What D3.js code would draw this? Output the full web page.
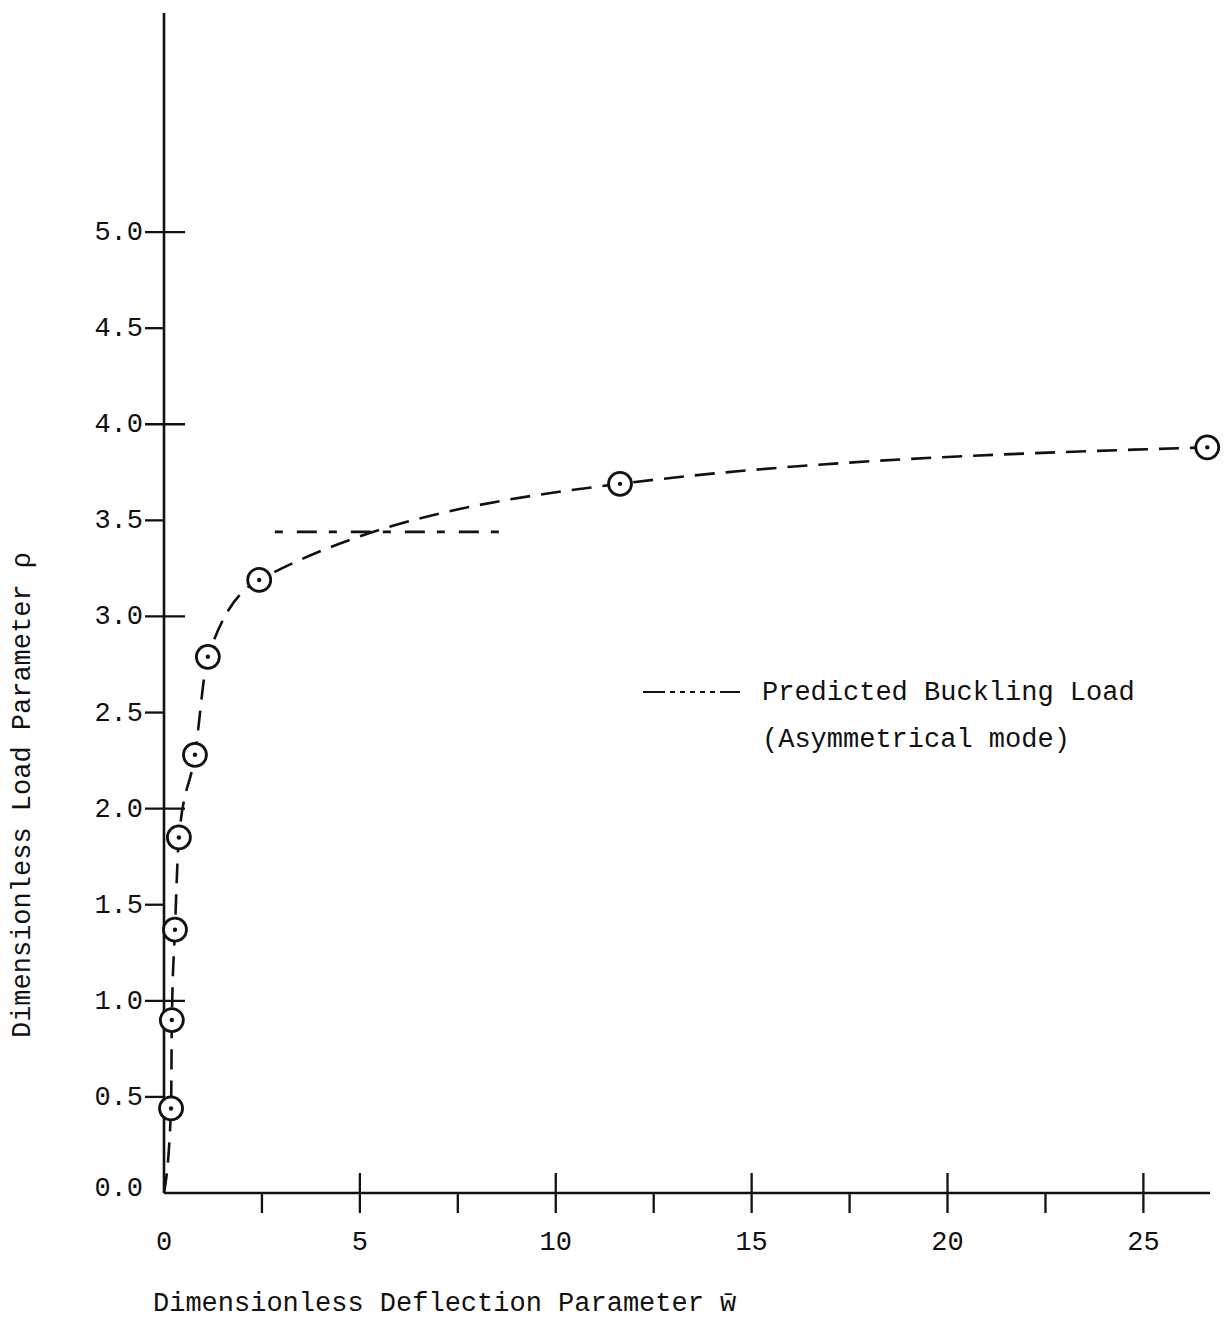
<!DOCTYPE html>
<html><head><meta charset="utf-8">
<script src="https://cdn.jsdelivr.net/npm/d3@7"></script>
<style>
body{margin:0;background:#fff;}
text{font-family:"Liberation Mono","DejaVu Sans Mono",monospace;fill:#111;}
</style></head>
<body>
<svg id="chart" width="1224" height="1326"></svg>
<script>
// Data
const deflection = [0, 0.18, 0.2, 0.28, 0.38, 0.79, 1.12, 2.43, 11.64, 26.63];
const load       = [0, 0.44, 0.90, 1.37, 1.85, 2.28, 2.79, 3.19, 3.69, 3.88];
const measured   = [false, true, true, true, true, true, true, true, true, true];
const bucklingLoad = 3.44;
const bucklingRange = [2.83, 8.84];
const xTicksMajor = [0, 5, 10, 15, 20, 25];
const xTicksMinor = [2.5, 7.5, 12.5, 17.5, 22.5];
const yTicksMajor = [0, 1, 2, 3, 4, 5];
const yTicksMinor = [0.5, 1.5, 2.5, 3.5, 4.5];
const yTickLabels = ["0.0","0.5","1.0","1.5","2.0","2.5","3.0","3.5","4.0","4.5","5.0"];
const yTickValues = [0,0.5,1,1.5,2,2.5,3,3.5,4,4.5,5];
const xTickLabels = ["0","5","10","15","20","25"];

const svg = d3.select("#chart");
const x = d3.scaleLinear().domain([0, 26.7]).range([164, 1210]);
const y = d3.scaleLinear().domain([0, 6.14]).range([1193, 13]);
const ink = "#111";

// axes lines
svg.append("line").attr("x1", x(0)).attr("x2", x(26.7)).attr("y1", y(0)).attr("y2", y(0))
  .attr("stroke", ink).attr("stroke-width", 2.6);
svg.append("line").attr("x1", x(0)).attr("x2", x(0)).attr("y1", y(0)).attr("y2", y(6.14))
  .attr("stroke", ink).attr("stroke-width", 2.6);

// x ticks
svg.selectAll(".xmaj").data(xTicksMajor.filter(d => d > 0)).enter().append("line")
  .attr("x1", d => x(d)).attr("x2", d => x(d)).attr("y1", y(0) - 20).attr("y2", y(0) + 20)
  .attr("stroke", ink).attr("stroke-width", 2.3);
svg.selectAll(".xmin").data(xTicksMinor).enter().append("line")
  .attr("x1", d => x(d)).attr("x2", d => x(d)).attr("y1", y(0)).attr("y2", y(0) + 20)
  .attr("stroke", ink).attr("stroke-width", 2.3);
svg.selectAll(".xlab").data(xTicksMajor).enter().append("text")
  .attr("x", d => x(d)).attr("y", 1250)
  .attr("text-anchor", "middle").attr("font-size", 27)
  .text((d, i) => xTickLabels[i]);

// y ticks
svg.selectAll(".ymaj").data(yTicksMajor.filter(d => d > 0)).enter().append("line")
  .attr("x1", x(0) - 19).attr("x2", x(0) + 21).attr("y1", d => y(d)).attr("y2", d => y(d))
  .attr("stroke", ink).attr("stroke-width", 2.3);
svg.selectAll(".ymin").data(yTicksMinor).enter().append("line")
  .attr("x1", x(0) - 19).attr("x2", x(0)).attr("y1", d => y(d)).attr("y2", d => y(d))
  .attr("stroke", ink).attr("stroke-width", 2.3);
svg.selectAll(".ylab").data(yTickValues).enter().append("text")
  .attr("x", 143).attr("y", d => y(d) + (d === 0 ? 3 : 8))
  .attr("text-anchor", "end").attr("font-size", 27)
  .text((d, i) => yTickLabels[i]);

// axis titles
svg.append("text").attr("x", 153).attr("y", 1311).attr("font-size", 27)
  .text("Dimensionless Deflection Parameter w\u0304");
svg.append("text").attr("transform", "translate(30,795) rotate(-90)")
  .attr("text-anchor", "middle").attr("font-size", 27)
  .text("Dimensionless Load Parameter \u03c1");

// predicted buckling load line
svg.append("line").attr("x1", x(bucklingRange[0])).attr("x2", x(bucklingRange[1]))
  .attr("y1", y(bucklingLoad)).attr("y2", y(bucklingLoad))
  .attr("stroke", ink).attr("stroke-width", 2.6).attr("stroke-dasharray", "8,14,20,12");

// experimental curve
const pts = deflection.map((d, i) => [d, load[i]]);
const line = d3.line().x(d => x(d[0])).y(d => y(d[1])).curve(d3.curveMonotoneX);
svg.append("path").attr("d", line(pts)).attr("fill", "none")
  .attr("stroke", ink).attr("stroke-width", 2.6).attr("stroke-dasharray", "20,11");

// markers
const marks = pts.filter((d, i) => measured[i]);
svg.selectAll(".pt").data(marks).enter().append("circle")
  .attr("cx", d => x(d[0])).attr("cy", d => y(d[1])).attr("r", 11.5)
  .attr("fill", "#fff").attr("stroke", ink).attr("stroke-width", 2.8);
svg.selectAll(".dot").data(marks).enter().append("circle")
  .attr("cx", d => x(d[0])).attr("cy", d => y(d[1])).attr("r", 2.2)
  .attr("fill", ink);

// legend
svg.append("line").attr("x1", 643).attr("x2", 742).attr("y1", 692).attr("y2", 692)
  .attr("stroke", ink).attr("stroke-width", 2)
  .attr("stroke-dasharray", "22,5,5,5,5,5,5,5,5,5,5,5,20,200");
svg.append("text").attr("x", 762).attr("y", 700).attr("font-size", 27).text("Predicted Buckling Load");
svg.append("text").attr("x", 762).attr("y", 747).attr("font-size", 27).text("(Asymmetrical mode)");
</script>
</body></html>
